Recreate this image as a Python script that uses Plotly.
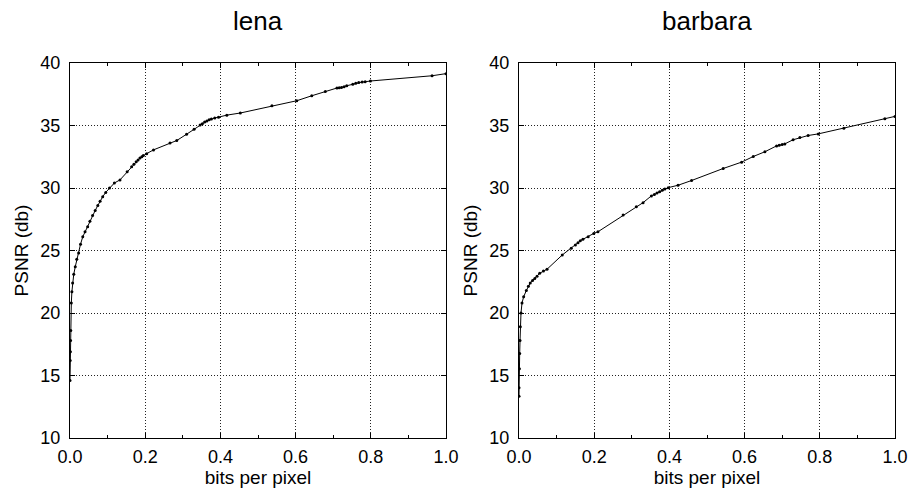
import plotly.graph_objects as go

# Rate–distortion curves (bits per pixel vs PSNR) for two test images
lena_bpp = [0.000, 0.0005, 0.001, 0.0015, 0.002, 0.0035, 0.005, 0.007, 0.010, 0.014,
            0.018, 0.023, 0.028, 0.034, 0.040, 0.047, 0.053, 0.060, 0.067, 0.074,
            0.080, 0.087, 0.095, 0.105, 0.118, 0.133, 0.152, 0.164, 0.170, 0.176,
            0.181, 0.186, 0.191, 0.195, 0.204, 0.222, 0.266, 0.284, 0.310, 0.330,
            0.346, 0.352, 0.358, 0.364, 0.370, 0.376, 0.385, 0.395, 0.417, 0.453,
            0.537, 0.603, 0.643, 0.679, 0.710, 0.716, 0.722, 0.729, 0.736, 0.752,
            0.760, 0.768, 0.777, 0.785, 0.799, 0.963, 1.0]
lena_psnr = [14.6, 16.2, 16.9, 17.8, 18.6, 20.8, 21.7, 22.4, 23.1, 23.7,
             24.3, 24.8, 25.5, 26.1, 26.5, 26.9, 27.35, 27.8, 28.2, 28.6,
             28.95, 29.3, 29.65, 30.0, 30.4, 30.65, 31.3, 31.7, 31.9, 32.1,
             32.25, 32.4, 32.5, 32.6, 32.75, 33.05, 33.6, 33.8, 34.3, 34.7,
             35.05, 35.15, 35.27, 35.37, 35.45, 35.52, 35.6, 35.67, 35.83, 36.0,
             36.58, 36.98, 37.38, 37.73, 38.0, 38.02, 38.05, 38.1, 38.18, 38.3,
             38.38, 38.45, 38.48, 38.5, 38.56, 38.98, 39.15]

barbara_bpp = [0.000, 0.000, 0.001, 0.0018, 0.0027, 0.0035, 0.0053, 0.008, 0.0124, 0.0195,
               0.025, 0.030, 0.036, 0.042, 0.048, 0.055, 0.065, 0.0745, 0.115, 0.139,
               0.150, 0.157, 0.163, 0.170, 0.184, 0.199, 0.210, 0.277, 0.312, 0.330,
               0.352, 0.360, 0.367, 0.374, 0.381, 0.388, 0.397, 0.423, 0.459, 0.543,
               0.592, 0.623, 0.654, 0.685, 0.692, 0.700, 0.707, 0.729, 0.747, 0.769,
               0.796, 0.864, 0.973, 1.0]
barbara_psnr = [13.34, 14.03, 15.55, 16.76, 17.8, 18.9, 20.0, 20.8, 21.3, 21.8,
                22.15, 22.4, 22.6, 22.77, 22.95, 23.17, 23.35, 23.5, 24.64, 25.17,
                25.45, 25.63, 25.78, 25.9, 26.1, 26.37, 26.5, 27.84, 28.5, 28.83,
                29.37, 29.48, 29.6, 29.71, 29.82, 29.92, 30.03, 30.22, 30.6, 31.56,
                32.07, 32.52, 32.9, 33.37, 33.43, 33.48, 33.53, 33.86, 34.04, 34.2,
                34.33, 34.79, 35.54, 35.73]

titles = ["lena", "barbara"]
x_ticks = [0.0, 0.2, 0.4, 0.6, 0.8, 1.0]
y_ticks = [10, 15, 20, 25, 30, 35, 40]

W, H = 911, 491
FONT = "Liberation Sans, Arial, Helvetica, sans-serif"

# plot-area boxes in pixels (left, right, top, bottom)
boxes = [(70, 446, 63, 438), (519, 895, 63, 438)]

fig = go.Figure()
series = [(lena_bpp, lena_psnr), (barbara_bpp, barbara_psnr)]
for i, (xs, ys) in enumerate(series):
    suffix = "" if i == 0 else str(i + 1)
    fig.add_trace(go.Scatter(
        x=xs, y=ys, mode="lines+markers",
        line=dict(color="black", width=1),
        marker=dict(color="black", size=3),
        xaxis="x" + suffix, yaxis="y" + suffix,
        showlegend=False, cliponaxis=True,
    ))

layout = dict(
    width=W, height=H,
    margin=dict(l=0, r=0, t=0, b=0, autoexpand=False),
    paper_bgcolor="white", plot_bgcolor="white",
    font=dict(family=FONT, size=18, color="black"),
    annotations=[],
)

GRID = dict(showgrid=True, gridcolor="#222", griddash="1px,2px", gridwidth=1)

for i, (l, r, t, b) in enumerate(boxes):
    suffix = "" if i == 0 else str(i + 1)
    xa = dict(
        domain=[l / W, r / W], range=[0, 1], anchor="y" + suffix,
        tickvals=x_ticks, ticktext=[f"{v:.1f}" for v in x_ticks],
        ticks="inside", ticklen=5, tickcolor="black",
        showline=True, linecolor="black", linewidth=1, mirror="allticks",
        zeroline=False, automargin=False,
        minor=dict(ticks="inside", dtick=0.1, ticklen=3, tickcolor="black", showgrid=False),
        tickfont=dict(size=18), ticklabelstandoff=2,
        title=dict(text="bits per pixel", font=dict(size=19), standoff=2),
        **GRID,
    )
    ya = dict(
        domain=[(H - b) / H, (H - t) / H], range=[10, 40], anchor="x" + suffix,
        tickvals=y_ticks,
        ticks="inside", ticklen=5, tickcolor="black",
        showline=True, linecolor="black", linewidth=1, mirror="allticks",
        zeroline=False, automargin=False,
        tickfont=dict(size=18), ticklabelstandoff=5,
        title=dict(text="PSNR (db)", font=dict(size=19), standoff=6),
        **GRID,
    )
    layout["xaxis" + suffix] = xa
    layout["yaxis" + suffix] = ya
    layout["annotations"].append(dict(
        text=titles[i], x=(l + r) / 2 / W, y=(H - 38) / H,
        xref="paper", yref="paper", showarrow=False,
        font=dict(size=26, family=FONT), xanchor="center", yanchor="bottom",
    ))

fig.update_layout(**layout)
fig.write_html("out.html")
